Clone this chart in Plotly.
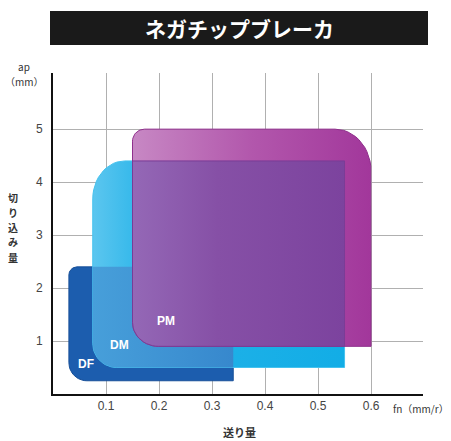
import numpy as np
import plotly.graph_objects as go

# ---------------- data ----------------
breakers = ["DF", "DM", "PM"]
feed_min = [0.03, 0.075, 0.15]     # fn (mm/r)
feed_max = [0.34, 0.55, 0.60]
depth_min = [0.25, 0.5, 0.9]       # ap (mm)
depth_max = [2.4, 4.4, 5.0]
x_ticks = [0.1, 0.2, 0.3, 0.4, 0.5, 0.6]
y_ticks = [1, 2, 3, 4, 5]
title_text = "ネガチップブレーカ"
x_title = "送り量"
y_title = "切り込み量"
x_unit = "fn（mm/r）"
y_unit_lines = ["ap", "（mm）"]

# ---------------- layout constants ----------------
W, H = 451, 441
ML, MR, MT, MB = 53, 28, 73, 47
PW, PH = W - ML - MR, H - MT - MB
X_RANGE = [0, 0.698]
Y_RANGE = [0, 6.06]
KX = (X_RANGE[1] - X_RANGE[0]) / PW   # data per px
KY = (Y_RANGE[1] - Y_RANGE[0]) / PH

def p2x(px):
    return (px - ML) / PW

def p2y(py):
    return (H - MB - py) / PH

# corner radii in px: (bl, br, tr, tl), each (rx, ry)
corners = {
    "DF": [(18, 18), (0, 0), (0, 0), (8, 8)],
    "DM": [(24, 24), (0, 0), (0, 0), (32, 38)],
    "PM": [(26, 24), (0, 0), (36, 42), (12, 12)],
}

def rounded(x0, x1, y0, y1, rad, n=14):
    (blx, bly), (brx, bry), (trx, try_), (tlx, tly) = rad
    xs, ys = [], []
    def arc(cx, cy, rx, ry, a0, a1):
        t = np.linspace(a0, a1, n)
        xs.extend(cx + rx * KX * np.cos(t))
        ys.extend(cy + ry * KY * np.sin(t))
    arc(x0 + blx * KX, y0 + bly * KY, blx, bly, np.pi, 1.5 * np.pi)
    arc(x1 - brx * KX, y0 + bry * KY, brx, bry, 1.5 * np.pi, 2 * np.pi)
    arc(x1 - trx * KX, y1 - try_ * KY, trx, try_, 0, 0.5 * np.pi)
    arc(x0 + tlx * KX, y1 - tly * KY, tlx, tly, 0.5 * np.pi, np.pi)
    xs.append(xs[0]); ys.append(ys[0])
    return xs, ys

fig = go.Figure()

def add_region(x0, x1, y0, y1, rad, fill, line, grad=None):
    xs, ys = rounded(x0, x1, y0, y1, rad)
    kw = dict(x=xs, y=ys, mode="lines", fill="toself", fillcolor=fill,
              line=dict(color=line, width=1), hoverinfo="skip", showlegend=False)
    if grad is not None:
        kw["fillgradient"] = grad
    fig.add_trace(go.Scatter(**kw))

i_df, i_dm, i_pm = 0, 1, 2
# DF
add_region(feed_min[i_df], feed_max[i_df], depth_min[i_df], depth_max[i_df],
           corners["DF"], "#1c5dae", "#174f98")
# DM
add_region(feed_min[i_dm], feed_max[i_dm], depth_min[i_dm], depth_max[i_dm],
           corners["DM"], "#1cb0e8", "#45c2ee",
           grad=dict(type="horizontal", colorscale=[[0, "#5cc6ef"], [0.25, "#22b2e8"], [1, "#12ade6"]]))
# DF ∩ DM
dm_bl = corners["DM"][0]
add_region(feed_min[i_dm], feed_max[i_df], depth_min[i_dm], depth_max[i_df],
           [dm_bl, (0, 0), (0, 0), (0, 0)], "#3b8fd2", "rgba(0,0,0,0)",
           grad=dict(type="horizontal", colorscale=[[0, "#479fda"], [1, "#3788cd"]]))
# PM
add_region(feed_min[i_pm], feed_max[i_pm], depth_min[i_pm], depth_max[i_pm],
           corners["PM"], "#a23c9c", "#8f2f8c",
           grad=dict(type="horizontal", colorscale=[[0, "#c788c4"], [0.5, "#b257ac"], [1, "#a2379b"]]))
# PM ∩ DM
pm_bl = corners["PM"][0]
add_region(feed_min[i_pm], feed_max[i_dm], depth_min[i_pm], depth_max[i_dm],
           [pm_bl, (0, 0), (0, 0), (0, 0)], "#8048a0", "#7a3c96",
           grad=dict(type="horizontal", colorscale=[[0, "#9468b6"], [0.4, "#8650a6"], [1, "#7c439e"]]))

# labels inside regions (offset from each region's lower-left, px)
label_off = {"DF": (17, 17), "DM": (27, 23), "PM": (33, 25)}
for i, name in enumerate(breakers):
    dx, dy = label_off[name]
    fig.add_annotation(x=feed_min[i] + dx * KX, y=depth_min[i] + dy * KY,
                       text="<b>%s</b>" % name, showarrow=False,
                       xanchor="center", yanchor="middle",
                       font=dict(family="Liberation Sans, Arial", size=12, color="white"))

# header
fig.add_shape(type="rect", xref="paper", yref="paper",
              x0=p2x(50), x1=p2x(428), y0=p2y(45), y1=p2y(11),
              fillcolor="#1a1a1a", line=dict(width=0), layer="above")

def txt(px, py, text, size, color="#333", family="Noto Sans CJK JP"):
    fig.add_annotation(xref="paper", yref="paper", x=p2x(px), y=p2y(py),
                       text=text, showarrow=False, xanchor="center", yanchor="middle",
                       font=dict(family=family, size=size, color=color))

txt(240, 28, "<b>%s</b>" % title_text, 21, color="white")
for k, line in enumerate(y_unit_lines):
    txt(24, 66 + 15 * k, line, 10)
for k, ch in enumerate(y_title):
    txt(13, 197 + 15 * k, "<b>%s</b>" % ch, 10)
txt(421, 408, x_unit, 10)
txt(240, 432, "<b>%s</b>" % x_title, 11)

tick_font = dict(family="Liberation Sans, Arial", size=12, color="#444")
fig.update_layout(
    width=W, height=H, autosize=False,
    margin=dict(l=ML, r=MR, t=MT, b=MB),
    paper_bgcolor="white", plot_bgcolor="white",
    showlegend=False,
    xaxis=dict(range=X_RANGE, tickvals=x_ticks, ticktext=[str(v) for v in x_ticks],
               showgrid=True, gridcolor="#b0b0b0", gridwidth=1,
               showline=True, linecolor="#111", linewidth=2, zeroline=False,
               ticks="", tickfont=tick_font, fixedrange=True),
    yaxis=dict(range=Y_RANGE, tickvals=y_ticks, ticktext=[str(v) for v in y_ticks],
               showgrid=True, gridcolor="#b0b0b0", gridwidth=1,
               showline=True, linecolor="#111", linewidth=2, zeroline=False,
               ticks="", ticklabelstandoff=6, tickfont=tick_font, fixedrange=True),
)

fig.write_html("out.html", config={"displayModeBar": False},
               post_script="document.body.style.margin='0px';")
